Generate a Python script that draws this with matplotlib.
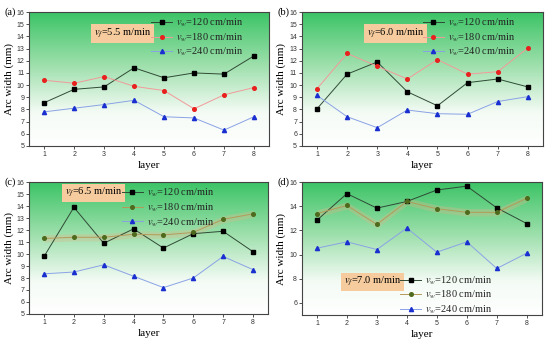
#imports
import matplotlib
matplotlib.use("Agg")
import matplotlib.pyplot as plt
import numpy as np
from matplotlib.colors import LinearSegmentedColormap

plt.rcParams['mathtext.fontset'] = 'stix'

#data
layers = [1, 2, 3, 4, 5, 6, 7, 8]
panel_tags = ["(a)", "(b)", "(c)", "(d)"]
feed_labels = ["5.5", "6.0", "6.5", "7.0"]
speed_labels = ["120", "180", "240"]

a_120 = [8.55, 9.65, 9.85, 11.42, 10.6, 11.0, 10.9, 12.4]
a_180 = [10.4, 10.15, 10.7, 9.9, 9.55, 8.05, 9.2, 9.8]
a_240 = [7.8, 8.1, 8.4, 8.75, 7.4, 7.3, 6.3, 7.4]

b_120 = [8.05, 10.9, 11.9, 9.45, 8.3, 10.2, 10.5, 9.85]
b_180 = [9.7, 12.6, 11.55, 10.5, 12.1, 10.9, 11.1, 13.05]
b_240 = [9.15, 7.4, 6.5, 7.95, 7.65, 7.6, 8.65, 9.05]

c_120 = [9.8, 13.9, 10.9, 12.1, 10.5, 11.7, 11.9, 10.2]
c_180 = [11.3, 11.4, 11.4, 11.65, 11.6, 11.8, 12.9, 13.35]
c_240 = [8.35, 8.5, 9.1, 8.15, 7.2, 8.0, 9.8, 8.7]

d_120 = [12.85, 15.05, 13.85, 14.4, 15.35, 15.67, 13.87, 12.57]
d_180 = [13.4, 14.07, 12.5, 14.4, 13.8, 13.5, 13.5, 14.67]
d_240 = [10.53, 11.06, 10.42, 12.2, 10.2, 11.06, 8.85, 10.12]

all_data = [[a_120, a_180, a_240], [b_120, b_180, b_240],
            [c_120, c_180, c_240], [d_120, d_180, d_240]]

#layout for each panel: axes rect, legend anchor, box position, ticks
rects = [[0.053, 0.577, 0.436, 0.388], [0.549, 0.577, 0.438, 0.388],
         [0.053, 0.090, 0.434, 0.382], [0.549, 0.087, 0.436, 0.385]]
leg_anchor = [(0.93, 1.03), (0.92, 1.03), (0.81, 1.03), (0.83, 0.37)]
box_pos = [(0.27, 0.84), (0.27, 0.84), (0.15, 0.92), (0.175, 0.25)]
yticks_list = [range(5, 17), range(5, 17), range(5, 17), range(6, 17, 2)]

#green-to-white background
bg = LinearSegmentedColormap.from_list("bg", [(0, "#ffffff"), (0.25, "#f4fbf5"),
                                              (0.6, "#9fe0ad"), (1.0, "#3cc466")])
grad = np.linspace(0, 1, 256).reshape(-1, 1)

serif = "Liberation Serif"
sans = "Liberation Sans"

fig = plt.figure(figsize=(5.5, 3.45), dpi=100)

for i in range(4):
    ax = fig.add_axes(rects[i])
    ax.imshow(grad, cmap=bg, aspect="auto", origin="lower",
              extent=[0.5, 8.5, 5, 16], zorder=0)
    s120, s180, s240 = all_data[i]

    if i < 2:
        c180_m, c180_l = "#e8201e", "#f29a9a"
    else:
        c180_m, c180_l = "#4e6a1c", "#b49a5a"
        #odd tan band round the 180 line in (c) and (d)
        ax.fill_between(layers, np.array(s180) - 0.3, np.array(s180) + 0.3,
                        color="#d9b98a", alpha=0.35, lw=0, zorder=1)

    ax.plot(layers, s120, color="#2f4a35", lw=0.7, marker="s", ms=3,
            mfc="black", mec="black", zorder=3,
            label=r"$v_w$=" + speed_labels[0] + " cm/min")
    ax.plot(layers, s180, color=c180_l, lw=0.7, marker="o", ms=2.6,
            mfc=c180_m, mec=c180_m, zorder=3,
            label=r"$v_w$=" + speed_labels[1] + " cm/min")
    ax.plot(layers, s240, color="#8aa2e6", lw=0.7, marker="^", ms=3,
            mfc="#1a2fd0", mec="#1a2fd0", zorder=3,
            label=r"$v_w$=" + speed_labels[2] + " cm/min")

    ax.set_xlim(0.5, 8.5)
    ax.set_ylim(5, 16)
    ax.set_xticks(layers)
    ax.set_yticks(list(yticks_list[i]))
    ax.tick_params(labelsize=5, length=2, width=0.6, pad=1.5, colors="#333333")
    for lab in ax.get_xticklabels() + ax.get_yticklabels():
        lab.set_family(sans)
    for sp in ax.spines.values():
        sp.set_color("#444444")
        sp.set_linewidth(0.8)

    ax.set_xlabel("layer", family=serif, fontsize=8, labelpad=2)
    ax.set_ylabel("Arc width (mm)", family=serif, fontsize=8, labelpad=2)

    leg = ax.legend(loc="upper right", bbox_to_anchor=leg_anchor[i], frameon=False,
                    prop={"family": serif, "size": 7.5}, handlelength=2.0,
                    handletextpad=0.4, labelspacing=0.22, borderpad=0.3)
    for t in leg.get_texts():
        t.set_color("#222222")

    ax.text(box_pos[i][0], box_pos[i][1], r"$v_f$=" + feed_labels[i] + " m/min",
            transform=ax.transAxes, family=serif, fontsize=7.5, va="center",
            ha="left", zorder=5,
            bbox=dict(boxstyle="square,pad=0.25", fc="#f6cc9e", ec="none"))

    fig.text(rects[i][0] - 0.045, rects[i][1] + rects[i][3], panel_tags[i],
             family=serif, fontsize=7.5, va="center", ha="left")

fig.savefig("out.png", dpi=100)
